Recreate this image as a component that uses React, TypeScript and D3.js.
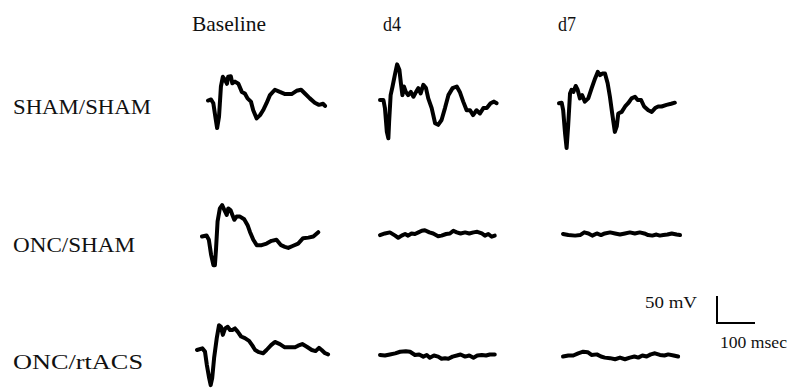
import React, { useEffect, useRef } from "react";
import * as d3 from "d3";

// column / row labels
const columns = ["Baseline", "d4", "d7"];
const groups = ["SHAM/SHAM", "ONC/SHAM", "ONC/rtACS"];

// traces as [msec, mV] pairs
const shamBaseline = [
  [0, -1], [8, 1], [14, -6], [20, -34], [24, -52], [29, -31], [34, 25], [39, 43],
  [45, 37], [50, 30], [53, 43], [60, 44], [64, 31], [71, 34], [80, 30], [89, 15],
  [97, 12], [104, 3], [113, -3], [119, -19], [128, -34], [137, -28], [145, -19],
  [154, -6], [163, 9], [176, 19], [189, 15], [203, 11], [220, 11], [233, 17],
  [245, 19], [255, 12], [268, 3], [281, -5], [292, -9], [303, -7], [308, -11],
];
const shamD4 = [
  [0, 0], [9, 0], [13, -15], [18, -59], [22, -71], [24, -40], [28, 9], [33, 25],
  [39, 46], [45, 66], [51, 56], [55, 31], [59, 9], [63, 25], [68, 15], [74, 9],
  [81, 15], [88, 6], [95, 15], [101, 22], [107, 12], [114, 28], [121, 22], [127, 3],
  [136, -15], [145, -43], [153, -46], [162, -37], [171, -15], [180, 9], [191, 22],
  [202, 25], [210, 15], [219, -3], [228, -19], [237, -19], [245, -28], [254, -19],
  [263, -25], [272, -15], [281, -15], [291, -6], [300, -3], [307, -6],
];
const shamD7 = [
  [0, -6], [7, -5], [11, -19], [16, -62], [20, -89], [24, -49], [29, 12], [33, 19],
  [38, 15], [44, 26], [49, 19], [55, 3], [61, 9], [68, -3], [77, 3], [86, 22],
  [95, 40], [102, 52], [108, 46], [114, 49], [121, 49], [128, 31], [134, 6],
  [140, -25], [147, -59], [152, -49], [156, -25], [165, -22], [174, -12], [182, -6],
  [191, 3], [200, 6], [207, 0], [216, 0], [224, -12], [235, -19], [244, -22],
  [253, -15], [261, -12], [270, -12], [283, -9], [295, -7], [305, -5],
];
const oncShamBaseline = [
  [0, -1], [12, 1], [18, -7], [24, -35], [30, -54], [34, -54], [37, -23], [41, 27],
  [47, 51], [53, 57], [59, 48], [65, 39], [69, 51], [75, 48], [80, 39], [85, 30],
  [91, 36], [100, 36], [111, 31], [120, 20], [126, 8], [135, -7], [144, -17],
  [157, -17], [170, -14], [183, -9], [196, -7], [208, -17], [218, -20], [227, -22],
  [240, -18], [253, -14], [266, -4], [280, -3], [293, -1], [306, 7],
];
const oncShamD4 = [
  [0, -2], [13, 1], [26, 3], [40, -3], [48, -7], [57, -3], [66, 0], [74, -3],
  [83, 1], [92, 0], [101, 3], [110, 6], [118, 7], [130, 3], [140, 1], [153, -4],
  [162, -3], [174, 0], [184, 1], [193, 6], [202, 3], [212, 1], [224, 3], [235, 1],
  [246, 3], [256, 4], [268, 1], [276, -3], [285, 0], [294, -5], [302, -3],
];
const oncShamD7 = [
  [0, 0], [14, -2], [32, -3], [45, -2], [56, 3], [67, 1], [77, -3], [89, 1],
  [100, -2], [110, 1], [124, 3], [137, 1], [150, -1], [163, 1], [176, 3], [189, 1],
  [202, 3], [214, 1], [224, -2], [235, -3], [246, -1], [255, -3], [264, -2],
  [275, -1], [286, 1], [299, -1], [308, -2],
];
const oncRtacsBaseline = [
  [0, 0], [14, 3], [21, -3], [26, -28], [32, -52], [36, -65], [40, -52], [45, -15],
  [52, 22], [58, 46], [63, 43], [68, 28], [74, 40], [81, 43], [87, 37], [93, 37],
  [100, 40], [107, 34], [116, 25], [126, 22], [137, 17], [145, 9], [153, 0],
  [163, -4], [174, -6], [183, 0], [195, 9], [205, 15], [218, 11], [231, 5],
  [245, 5], [258, 5], [266, 8], [277, 11], [289, 6], [302, 0], [312, -2], [321, 4],
  [328, 0], [337, -6], [345, -8],
];
const oncRtacsD4 = [
  [0, 0], [13, -1], [26, 1], [40, 3], [53, 6], [68, 7], [79, 6], [92, 0], [103, 1],
  [114, -3], [123, 0], [131, -5], [142, -1], [153, -3], [162, -7], [171, -6],
  [180, -7], [191, -3], [202, -1], [212, 1], [224, -3], [235, -1], [246, -5],
  [256, -1], [268, 0], [279, -1], [289, 1], [302, 1],
];
const oncRtacsD7 = [
  [0, -1], [14, 1], [27, 1], [40, 5], [53, 8], [65, 7], [75, 2], [89, 3], [100, -1],
  [110, -3], [124, -4], [137, -6], [150, -3], [163, -6], [176, -3], [188, -1],
  [198, -3], [209, 1], [220, -1], [231, 3], [242, 5], [255, 2], [267, 1], [277, 3],
  [291, 1], [303, -1],
];

const traces = [
  [shamBaseline, shamD4, shamD7],
  [oncShamBaseline, oncShamD4, oncShamD7],
  [oncRtacsBaseline, oncRtacsD4, oncRtacsD7],
];

// scale bar
const barMv = 50;
const barMs = 100;

// where each trace starts on the page (the panels were pasted by hand)
const cellOrigins = [
  [[208, 100], [380, 100], [559, 100]],
  [[202, 236], [380, 234], [563, 234]],
  [[197, 350], [380, 355], [563, 356]],
];

function App() {
  const width = 793;
  const height = 388;
  const svgRef = useRef(null);

  useEffect(() => {
    const svg = d3.select(svgRef.current);
    svg.selectAll("*").remove();

    const x = d3.scaleLinear().domain([0, 100]).range([0, 38]);
    const y = d3.scaleLinear().domain([0, 50]).range([0, -27]);
    const traceLine = d3
      .line<number[]>()
      .x((d) => x(d[0]))
      .y((d) => y(d[1]));

    const font = "'Liberation Serif', 'Times New Roman', serif";

    // column headers
    const headerX = [192, 383, 558];
    const headerW = [74, 18, 18];
    svg
      .selectAll("text.col")
      .data(columns)
      .join("text")
      .attr("class", "col")
      .attr("x", (d, i) => headerX[i])
      .attr("y", 31)
      .attr("textLength", (d, i) => headerW[i])
      .attr("lengthAdjust", "spacingAndGlyphs")
      .style("font-family", font)
      .style("font-size", "21px")
      .style("fill", "#111")
      .text((d) => d);

    // row labels
    const rowY = [114, 252, 369];
    const rowW = [138, 122, 130];
    svg
      .selectAll("text.row")
      .data(groups)
      .join("text")
      .attr("class", "row")
      .attr("x", 13)
      .attr("y", (d, i) => rowY[i])
      .attr("textLength", (d, i) => rowW[i])
      .attr("lengthAdjust", "spacingAndGlyphs")
      .style("font-family", font)
      .style("font-size", "22px")
      .style("fill", "#111")
      .text((d) => d);

    // traces
    traces.forEach((row, r) => {
      row.forEach((trace, c) => {
        const [ox, oy] = cellOrigins[r][c];
        svg
          .append("path")
          .attr("transform", "translate(" + ox + "," + oy + ")")
          .attr("d", traceLine(trace))
          .attr("fill", "none")
          .attr("stroke", "#000")
          .attr("stroke-width", 4)
          .attr("stroke-linejoin", "round")
          .attr("stroke-linecap", "round");
      });
    });

    // scale bar
    const bar = svg.append("g").attr("transform", "translate(717,323)");
    bar
      .append("path")
      .attr(
        "d",
        traceLine([
          [0, barMv],
          [0, 0],
          [barMs, 0],
        ])
      )
      .attr("fill", "none")
      .attr("stroke", "#000")
      .attr("stroke-width", 2);
    bar
      .append("text")
      .attr("x", -72)
      .attr("y", -15)
      .attr("textLength", 52)
      .attr("lengthAdjust", "spacingAndGlyphs")
      .style("font-family", font)
      .style("font-size", "17px")
      .style("fill", "#111")
      .text(barMv + " mV");
    bar
      .append("text")
      .attr("x", 3)
      .attr("y", 25)
      .attr("textLength", 67)
      .attr("lengthAdjust", "spacingAndGlyphs")
      .style("font-family", font)
      .style("font-size", "17px")
      .style("fill", "#111")
      .text(barMs + " msec");
  }, []);

  return (
    <svg
      ref={svgRef}
      width={width}
      height={height}
      style={{ position: "absolute", left: 0, top: 0, background: "#fff" }}
    />
  );
}

export default App;
